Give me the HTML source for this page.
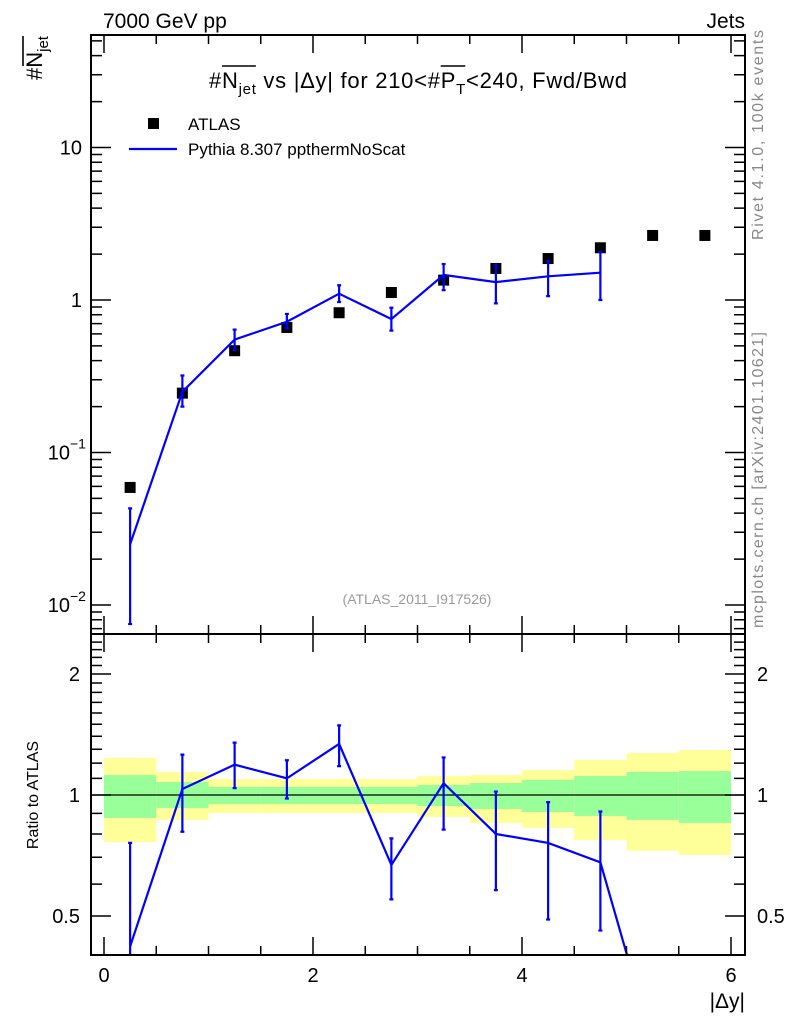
<!DOCTYPE html>
<html><head><meta charset="utf-8"><style>
body{margin:0;background:#fff;}
svg{display:block;font-family:"Liberation Sans",Arial,sans-serif;}
</style></head><body>
<svg id="c" width="786" height="1024" viewBox="0 0 786 1024"></svg>
<script>
const xCenters=[0.25,0.75,1.25,1.75,2.25,2.75,3.25,3.75,4.25,4.75,5.25,5.75];
const atlasVals=[0.059,0.245,0.465,0.66,0.825,1.12,1.35,1.61,1.87,2.2,2.65,2.65];
const pyVals=[0.025,0.25,0.55,0.72,1.1,0.75,1.46,1.31,1.43,1.51];
const pyLo=[0.0075,0.2,0.47,0.65,0.97,0.63,1.16,0.95,1.06,1.0];
const pyHi=[0.043,0.32,0.64,0.81,1.25,0.89,1.72,1.7,1.8,2.06];
const ratioVals=[0.42,1.035,1.19,1.10,1.34,0.67,1.07,0.80,0.76,0.68,0.24];
const ratioLo=[0.3,0.81,1.04,0.98,1.18,0.55,0.82,0.58,0.49,0.46];
const ratioHi=[0.76,1.26,1.35,1.22,1.49,0.78,1.24,1.02,0.96,0.91];
const yelHi=[1.236,1.141,1.096,1.096,1.096,1.096,1.115,1.121,1.154,1.222,1.272,1.294];
const yelLo=[0.764,0.867,0.902,0.902,0.902,0.902,0.882,0.852,0.828,0.773,0.726,0.709];
const grnHi=[1.121,1.077,1.047,1.047,1.047,1.047,1.059,1.071,1.090,1.115,1.141,1.147];
const grnLo=[0.877,0.928,0.950,0.950,0.950,0.950,0.939,0.923,0.907,0.887,0.867,0.852];
const L=91,R=745,T=35,M=634,B=955;
const X=v=>104+v*104.5;
const Y=v=>300-Math.log10(v)*152.5;
const YR=v=>795-Math.log2(v)*121;
const svg=document.getElementById('c');
const NS='http://www.w3.org/2000/svg';
function el(t,a,p){const e=document.createElementNS(NS,t);for(const k in a)e.setAttribute(k,a[k]);(p||svg).appendChild(e);return e;}
function txt(s,a,p){const e=el('text',a,p);e.textContent=s;return e;}
const defs=el('defs',{});
const c1=el('clipPath',{id:'cm'},defs);el('rect',{x:L,y:T,width:R-L,height:M-T},c1);
const c2=el('clipPath',{id:'cr'},defs);el('rect',{x:L,y:M,width:R-L,height:B-M},c2);
const gB=el('g',{'clip-path':'url(#cr)'});


xCenters.forEach((c,i)=>{
 const r=el('rect',{x:X(c-0.25),y:YR(yelHi[i]),width:X(0.5)-X(0),height:YR(yelLo[i])-YR(yelHi[i]),fill:'#ffff99'},gB);
 
 
 const g=el('rect',{x:X(c-0.25),y:YR(grnHi[i]),width:X(0.5)-X(0),height:YR(grnLo[i])-YR(grnHi[i]),fill:'#99ff99'},gB);
 
 
});
el('line',{x1:L,x2:R,y1:YR(1),y2:YR(1),stroke:'#000','stroke-width':1.3});
const gm=el('g',{'clip-path':'url(#cm)'});
atlasVals.forEach((v,i)=>{
 const r=el('rect',{x:X(xCenters[i])-5.5,y:Y(v)-5.5,width:11,height:11,fill:'#000'},gm);
 
 
});
const pl=el('polyline',{points:pyVals.map((v,i)=>X(xCenters[i])+','+Y(v)).join(' '),fill:'none',stroke:'#0000ff','stroke-width':2.2},gm);


pyVals.forEach((v,i)=>{
 const x=X(xCenters[i]);
 const e=el('path',{d:`M${x},${Y(pyLo[i])}V${Y(pyHi[i])}M${x-2},${Y(pyLo[i])}h4M${x-2},${Y(pyHi[i])}h4`,stroke:'#0000ff','stroke-width':2.2,fill:'none'},gm);
 
 
});
const gr=el('g',{'clip-path':'url(#cr)'});
const rl=el('polyline',{points:ratioVals.map((v,i)=>X(xCenters[i])+','+YR(v)).join(' '),fill:'none',stroke:'#0000ff','stroke-width':2.2},gr);


ratioLo.forEach((v,i)=>{
 const x=X(xCenters[i]);
 const e=el('path',{d:`M${x},${YR(v)}V${YR(ratioHi[i])}M${x-2},${YR(v)}h4M${x-2},${YR(ratioHi[i])}h4`,stroke:'#0000ff','stroke-width':2.2,fill:'none'},gr);
 
 
});
const f1=el('rect',{x:L,y:T,width:R-L,height:M-T,fill:'none',stroke:'#000','stroke-width':2});

const f2=el('rect',{x:L,y:M,width:R-L,height:B-M,fill:'none',stroke:'#000','stroke-width':2});

let d='';
for(let v=0;v<=6.01;v+=0.5){const x=X(v);const len=(Math.abs(v-Math.round(v/2)*2)<0.01)?18:9;
 d+=`M${x},${T}v${len}M${x},${M}v${-len}M${x},${M}v${len}M${x},${B}v${-len}`;}
for(let e=-3;e<=1;e++){for(let m=1;m<10;m++){const v=m*Math.pow(10,e);const y=Y(v);if(y<T||y>M)continue;const len=m==1?20:11;d+=`M${L},${y}h${len}M${R},${y}h${-len}`;}}
[0.4,0.5,0.6,0.7,0.8,0.9,1,1.1,1.2,1.3,1.4,1.5,1.6,1.7,1.8,1.9,2,2.1,2.2,2.3,2.4].forEach(v=>{const y=YR(v);if(y<M||y>B)return;const len=(v==0.5||v==1||v==2)?20:11;d+=`M${L},${y}h${len}M${R},${y}h${-len}`;});
el('path',{d:d,stroke:'#000','stroke-width':1.5,fill:'none'});
const fs={'font-size':20,fill:'#000'};
[['10',1],['1',0]].forEach(([s,e])=>txt(s,Object.assign({x:82,y:Y(Math.pow(10,e))+7,'text-anchor':'end'},fs)));
[[-1,0.1],[-2,0.01]].forEach(([e,v])=>{txt('10',Object.assign({x:70,y:Y(v)+7,'text-anchor':'end'},fs));txt('\u2212'+(-e),{x:70,y:Y(v)-4,'font-size':14});});
[['2',2],['1',1],['0.5',0.5]].forEach(([s,v])=>{txt(s,Object.assign({x:80,y:YR(v)+7,'text-anchor':'end'},fs));txt(s,Object.assign({x:757,y:YR(v)+7},fs));});
['0','2','4','6'].forEach(s=>txt(s,Object.assign({x:X(+s),y:982,'text-anchor':'middle'},fs)));
</script>
<svg id="ov" width="786" height="1024" style="position:absolute;left:0;top:0" font-family="Liberation Sans, Arial, sans-serif">
<text x="103" y="28" font-size="21">7000 GeV pp</text>
<text x="745" y="28" font-size="21" text-anchor="end">Jets</text>
<g>
<text id="ttl" x="209" y="88" font-size="22" textLength="418" lengthAdjust="spacing">#N<tspan font-size="15" dy="6">jet</tspan><tspan dy="-6"> vs |Δy| for 210&lt;#P</tspan><tspan font-size="15" dy="6">T</tspan><tspan dy="-6">&lt;240, Fwd/Bwd</tspan></text>
<line id="ob1" x1="222" y1="66" x2="254" y2="66" stroke="#000" stroke-width="1.6"/>
<line id="ob2" x1="510" y1="66" x2="526" y2="66" stroke="#000" stroke-width="1.6"/>
</g>
<g transform="translate(42,80) rotate(-90)">
<text x="0" y="0" font-size="22">#N<tspan font-size="15" dy="6">jet</tspan></text>
<line x1="14" y1="-19" x2="44" y2="-19" stroke="#000" stroke-width="1.6"/>
</g>
<g>
<rect x="148" y="118" width="11" height="11" fill="#000"/>
<text x="188" y="130" font-size="17">ATLAS</text>
<line x1="129" y1="149" x2="177" y2="149" stroke="#0000ff" stroke-width="2.2"/>
<text x="188" y="155" font-size="17">Pythia 8.307 ppthermNoScat</text>
</g>
<text x="417" y="604" font-size="14" fill="#999" text-anchor="middle">(ATLAS_2011_I917526)</text>
<text transform="translate(763,135) rotate(-90)" font-size="16" fill="#888" text-anchor="middle" textLength="210">Rivet 4.1.0,  100k events</text>
<text transform="translate(763,480) rotate(-90)" font-size="16" fill="#888" text-anchor="middle" textLength="296">mcplots.cern.ch [arXiv:2401.10621]</text>
<text transform="translate(38,795) rotate(-90)" font-size="16" text-anchor="middle">Ratio to ATLAS</text>
<text x="745" y="1008" font-size="21" text-anchor="end">|Δy|</text>
</svg>
<script>
(function(){
 const t=document.getElementById('ttl');
 try{
  const s=t.textContent;
  const iN=s.indexOf('N'), iJ=iN+3;
  const a=t.getStartPositionOfChar(iN).x, b=t.getEndPositionOfChar(iJ).x;
  const o1=document.getElementById('ob1');o1.setAttribute('x1',a);o1.setAttribute('x2',b);
  const iP=s.indexOf('#P')+1;
  const p=t.getStartPositionOfChar(iP).x, q=t.getEndPositionOfChar(iP+1).x;
  const o2=document.getElementById('ob2');o2.setAttribute('x1',p);o2.setAttribute('x2',q);
 }catch(e){}
})();
</script>
</body></html>
